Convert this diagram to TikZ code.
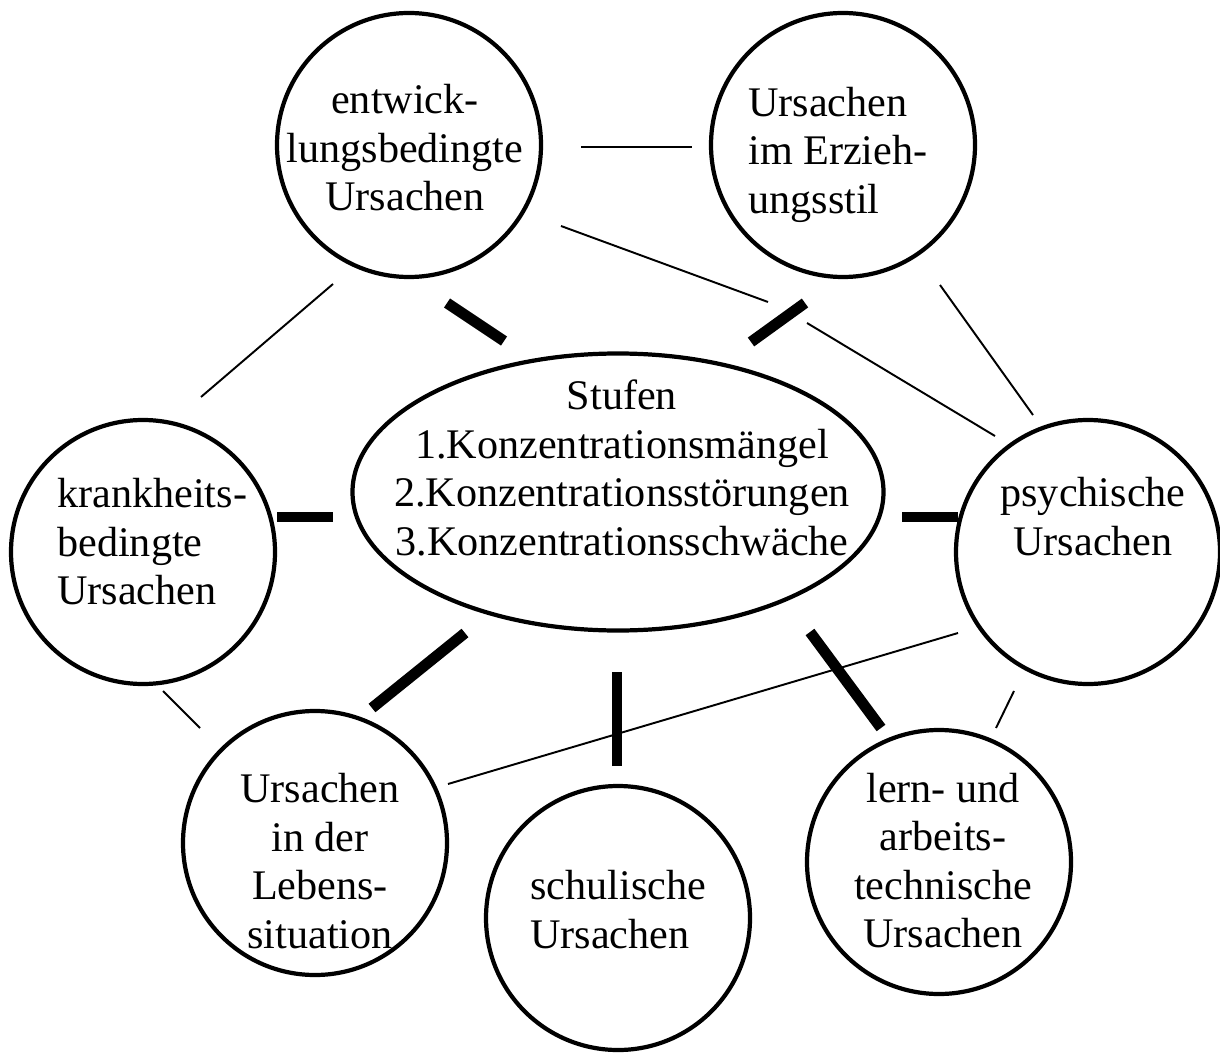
\documentclass[tikz,border=0pt]{standalone}
\usepackage{fontspec}
\setmainfont{Liberation Serif}
\usepackage{tikz}
\usetikzlibrary{shapes.geometric}
\newcommand{\linkline}[3][thinlink]{
\draw[#1] (#2) -- (#3);
}

\begin{document}
\begin{tikzpicture}[
  cause/.style={draw, circle, line width=2.4pt, minimum size=5.28cm, inner sep=0pt},
  stage/.style={draw, ellipse, line width=2.4pt, minimum width=10.62cm, minimum height=5.54cm, inner sep=0pt},
  words/.style={inner sep=0pt, font=\fontsize{24}{27.6}\selectfont},
  thinlink/.style={line width=1.1pt},
  bondlink/.style={line width=6.2pt}
]
\useasboundingbox (0, 0) rectangle (24.4, 21.06);
% shapes
\node[stage] at (12.36, 11.22) (stufen) {};
\node[cause] at (8.18, 18.16) (entw) {};
\node[cause] at (16.86, 18.16) (erz) {};
\node[cause] at (2.86, 10.02) (krank) {};
\node[cause] at (21.76, 10.02) (psych) {};
\node[cause] at (6.30, 4.20) (leben) {};
\node[cause] at (12.36, 2.70) (schul) {};
\node[cause] at (18.78, 3.82) (lern) {};
% texts
\node[words, align=center] at (12.44, 11.70) (stufentext) {Stufen\\1.Konzentrationsmängel\\2.Konzentrationsstörungen\\3.Konzentrationsschwäche};
\node[words, align=center] at (8.10, 18.10) (entwtext) {entwick-\\lungsbedingte\\Ursachen};
\node[words, align=left, anchor=west] at (14.96, 17.97) (erztext) {Ursachen\\im Erzieh-\\ungsstil};
\node[words, align=left, anchor=west] at (1.14, 10.22) (kranktext) {krankheits-\\bedingte\\Ursachen};
\node[words, align=center] at (21.86, 10.73) (psychtext) {psychische\\Ursachen};
\node[words, align=center] at (6.40, 3.84) (lebentext) {Ursachen\\in der\\Lebens-\\situation};
\node[words, align=left, anchor=west] at (10.60, 2.87) (schultext) {schulische\\Ursachen};
\node[words, align=center] at (18.86, 3.85) (lerntext) {lern- und\\arbeits-\\technische\\Ursachen};
% ends of the thick bars
\coordinate (entw1) at (8.94, 15.00);
\coordinate (entw2) at (10.08, 14.24);
\coordinate (erz1) at (16.10, 15.00);
\coordinate (erz2) at (15.02, 14.22);
\coordinate (krank1) at (5.54, 10.72);
\coordinate (krank2) at (6.66, 10.72);
\coordinate (psych1) at (19.16, 10.72);
\coordinate (psych2) at (18.04, 10.72);
\coordinate (leben1) at (7.44, 6.90);
\coordinate (leben2) at (9.30, 8.40);
\coordinate (schul1) at (12.34, 5.74);
\coordinate (schul2) at (12.34, 7.62);
\coordinate (lern1) at (17.62, 6.50);
\coordinate (lern2) at (16.20, 8.42);
% ends of the thin lines
\coordinate (ee1) at (11.62, 18.12);
\coordinate (ee2) at (13.84, 18.12);
\coordinate (ep1) at (11.22, 16.54);
\coordinate (ep2) at (15.36, 15.02);
\coordinate (ep3) at (16.14, 14.60);
\coordinate (ep4) at (19.90, 12.34);
\coordinate (zp1) at (18.80, 15.36);
\coordinate (zp2) at (20.66, 12.76);
\coordinate (ek1) at (6.66, 15.38);
\coordinate (ek2) at (4.02, 13.12);
\coordinate (kl1) at (3.26, 7.24);
\coordinate (kl2) at (4.00, 6.50);
\coordinate (pl1) at (20.28, 7.24);
\coordinate (pl2) at (19.92, 6.50);
\coordinate (lp1) at (8.96, 5.38);
\coordinate (lp2) at (19.16, 8.40);
\linkline[bondlink]{entw1}{entw2}
\linkline[bondlink]{erz1}{erz2}
\linkline[bondlink]{krank1}{krank2}
\linkline[bondlink]{psych1}{psych2}
\linkline[bondlink]{leben1}{leben2}
\linkline[bondlink]{schul1}{schul2}
\linkline[bondlink]{lern1}{lern2}
\linkline[line width=1.5pt]{ee1}{ee2}
\linkline{ep1}{ep2}
\linkline{ep3}{ep4}
\linkline{zp1}{zp2}
\linkline{ek1}{ek2}
\linkline{kl1}{kl2}
\linkline{pl1}{pl2}
\linkline{lp1}{lp2}
\end{tikzpicture}
\end{document}
